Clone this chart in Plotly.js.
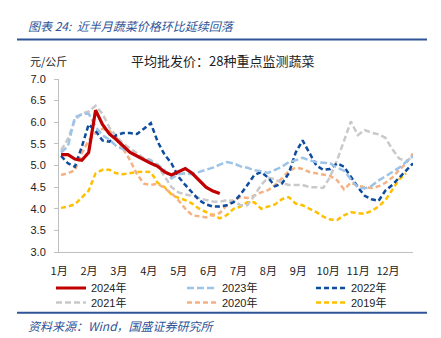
<!DOCTYPE html>
<html>
<head>
<meta charset="utf-8">
<script src="https://cdn.plot.ly/plotly-3.0.1.min.js"></script>
<style>html,body{margin:0;padding:0;background:#fff;}#chart{width:441px;height:338px;}</style>
</head>
<body>
<div id="chart"></div>
<script>
// Month tick labels
const monthLabels = ["1月","2月","3月","4月","5月","6月","7月","8月","9月","10月","11月","12月"];
const seriesNames = ["2024年","2023年","2022年","2021年","2020年","2019年"];

// Weekly average wholesale price of 28 key vegetables (元/公斤)
const v2024 = [5.25,5.25,5.15,5.12,5.3,6.28,5.95,5.73,5.6,5.45,5.3,5.22,5.13,5.05,4.98,4.85,4.78,4.85,4.93,4.82,4.66,4.5,4.41,4.35];
const v2023 = [5.3,5.45,6.12,6.18,6.2,5.9,5.7,5.6,5.45,5.38,5.31,5.22,5.15,5.1,5.02,4.89,4.7,4.8,4.82,4.8,4.85,4.9,4.95,5.02,5.08,5.05,4.98,4.95,4.89,4.87,4.83,4.9,4.97,5.08,5.12,5.18,5.12,5.08,5.06,5.05,4.95,4.88,4.68,4.5,4.47,4.53,4.65,4.75,4.83,4.95,5.08,5.22];
const v2022 = [5.22,5.05,4.97,5.43,5.95,5.8,5.58,5.55,5.7,5.75,5.75,5.73,5.85,5.98,5.55,5.25,5.05,4.74,4.55,4.38,4.2,4.1,4.05,4.05,4.08,4.15,4.33,4.55,4.78,4.85,4.72,4.52,4.58,4.82,5.3,5.58,5.28,5.0,4.9,4.92,5.05,4.97,4.74,4.5,4.3,4.22,4.18,4.42,4.55,4.72,4.9,5.05];
const v2021 = [5.35,5.62,6.05,6.2,6.25,6.38,6.2,5.88,5.68,5.5,5.4,5.28,5.17,5.13,4.98,4.75,4.5,4.38,4.33,4.3,4.25,4.2,4.17,4.16,4.2,4.18,4.08,4.08,4.3,4.55,4.72,4.68,4.6,4.55,4.55,4.55,4.5,4.5,4.48,4.74,5.12,5.58,6.02,5.7,5.82,5.76,5.72,5.64,5.38,5.16,5.1,5.2];
const v2020 = [4.78,4.82,4.89,5.28,5.58,5.75,5.85,5.8,5.65,5.38,5.12,4.8,4.58,4.55,4.58,4.47,4.36,4.2,4.0,3.85,3.82,3.8,3.86,3.9,4.08,4.2,4.27,4.25,4.3,4.38,4.43,4.55,4.7,4.87,4.95,4.92,4.85,4.82,4.78,4.76,4.66,4.45,4.6,4.53,4.5,4.48,4.52,4.6,4.72,4.9,5.05,5.28];
const v2019 = [4.02,4.05,4.1,4.25,4.42,4.82,4.9,4.9,4.82,4.8,4.83,4.85,4.86,4.85,4.6,4.5,4.33,4.25,4.2,4.12,4.0,3.92,3.85,3.78,3.85,4.0,4.05,4.15,4.15,4.0,4.05,4.1,4.22,4.27,4.12,4.08,4.0,3.92,3.82,3.75,3.74,3.85,3.92,3.9,3.88,3.95,4.05,4.2,4.45,4.68,4.82];
const yTicks = [3.0,3.5,4.0,4.5,5.0,5.5,6.0,6.5,7.0];

const FONT = "Liberation Sans, Arial, Noto Sans CJK SC, sans-serif";
const CJK = "Noto Sans CJK SC, Liberation Sans, sans-serif";
const idx = a => a.map((_, i) => i);

function tr(vals, name, color, width, dash, legend) {
  return {x: idx(vals), y: vals, name: name, type: "scatter", mode: "lines",
    line: {color: color, width: width, dash: dash, shape: "linear"},
    legend: legend, hoverinfo: "skip"};
}

const data = [
  tr(v2019, seriesNames[5], "#FFC000", 2.5, "5px,3px", "legend6"),
  tr(v2020, seriesNames[4], "#F4B183", 2.5, "5px,3px", "legend5"),
  tr(v2021, seriesNames[3], "#C9C9C9", 2.5, "6px,3px", "legend4"),
  tr(v2022, seriesNames[2], "#0E4C9E", 2.5, "5px,3px", "legend3"),
  tr(v2023, seriesNames[1], "#9DC3E6", 2.5, "7px,3px", "legend2"),
  tr(v2024, seriesNames[0], "#C00000", 3.2, "solid", "legend")
];

const L = 59, R = 413, T = 78.5, B = 252;
const W = R - L, H = B - T;
const px = x => (x - L) / W;
const py = y => (B - y) / H;
const cx = x => x / 441;
const cy = y => 1 - y / 338;

function leg(xpx, ypx) {
  return {orientation: "h", xref: "container", yref: "container",
    x: cx(xpx), y: cy(ypx), xanchor: "left", yanchor: "middle",
    font: {family: FONT, size: 11, color: "#222"}, bgcolor: "rgba(0,0,0,0)",
    itemclick: false, itemdoubleclick: false};
}

const layout = {
  width: 441, height: 338,
  margin: {l: L, r: 441 - R, t: T, b: 338 - B, pad: 0, autoexpand: false},
  paper_bgcolor: "#fff", plot_bgcolor: "#fff",
  font: {family: FONT, size: 11, color: "#222"},
  showlegend: true,
  xaxis: {
    range: [-0.3, 51], tickmode: "array",
    tickvals: monthLabels.map((_, k) => k * 52 / 12 - 0.29),
    ticktext: monthLabels, showgrid: false, zeroline: false,
    showline: true, linecolor: "#BFBFBF", linewidth: 1,
    ticks: "", ticklabelstandoff: 9,
    tickfont: {family: CJK, size: 11, color: "#222"}, fixedrange: true
  },
  yaxis: {
    range: [3.0, 7.0], tickmode: "array", tickvals: yTicks,
    ticktext: yTicks.map(v => v.toFixed(1)),
    showgrid: false, zeroline: false, showline: true, linecolor: "#BFBFBF", linewidth: 1,
    ticks: "outside", ticklen: 4, tickcolor: "#BFBFBF", ticklabelstandoff: 6,
    tickfont: {family: FONT, size: 11, color: "#222"}, fixedrange: true
  },
  legend: leg(51, 288),
  legend2: leg(182, 288),
  legend3: leg(311, 288),
  legend4: leg(51, 302.5),
  legend5: leg(182, 302.5),
  legend6: leg(311, 302.5),
  shapes: [
    {type: "line", xref: "paper", yref: "paper", x0: px(17), x1: px(427), y0: py(39), y1: py(39),
     line: {color: "#2F5597", width: 2}},
    {type: "line", xref: "paper", yref: "paper", x0: px(17), x1: px(427), y0: py(313), y1: py(313),
     line: {color: "#2F5597", width: 2}}
  ],
  annotations: [
    {text: "<i>图表 24:  近半月蔬菜价格环比延续回落</i>", xref: "paper", yref: "paper",
     x: px(26), y: py(25), xanchor: "left", yanchor: "middle", showarrow: false,
     font: {family: CJK, size: 12, color: "#2F5597"}},
    {text: "元/公斤", xref: "paper", yref: "paper", x: px(28), y: py(60),
     xanchor: "left", yanchor: "middle", showarrow: false,
     font: {family: CJK, size: 11, color: "#222"}},
    {text: "平均批发价：28种重点监测蔬菜", xref: "paper", yref: "paper", x: px(222), y: py(60),
     xanchor: "center", yanchor: "middle", showarrow: false,
     font: {family: CJK, size: 13, color: "#222"}},
    {text: "<i>资料来源：Wind，国盛证券研究所</i>", xref: "paper", yref: "paper",
     x: px(26), y: py(326), xanchor: "left", yanchor: "middle", showarrow: false,
     font: {family: CJK, size: 12, color: "#2F5597"}}
  ]
};

Plotly.newPlot("chart", data, layout, {displayModeBar: false, staticPlot: true});
</script>
</body>
</html>
